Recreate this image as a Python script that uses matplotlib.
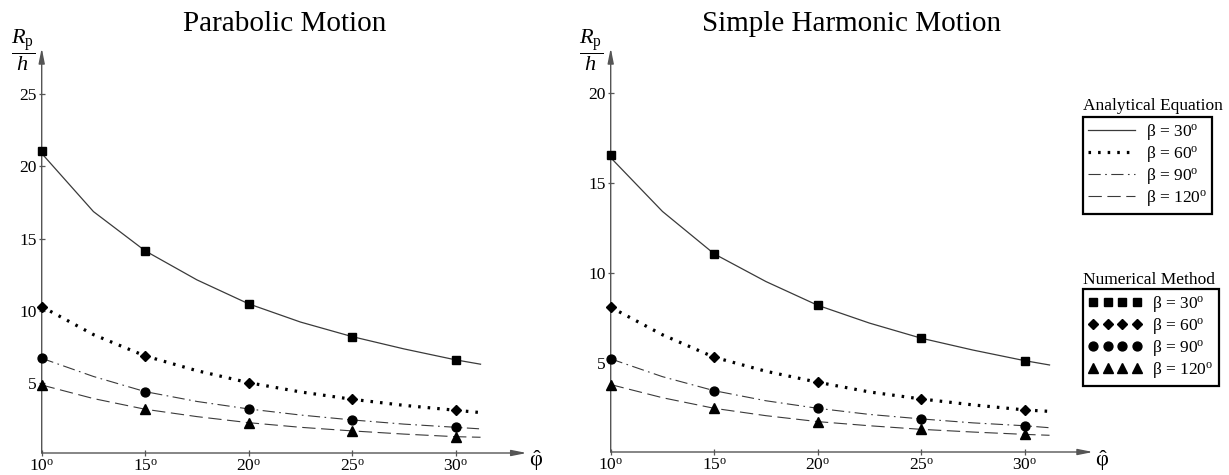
import matplotlib
matplotlib.use("Agg")
import matplotlib.pyplot as plt
from matplotlib.lines import Line2D

plt.rcParams['font.family'] = ['Liberation Serif', 'DejaVu Serif']
plt.rcParams['mathtext.fontset'] = 'custom'
plt.rcParams['mathtext.rm'] = 'Liberation Serif'
plt.rcParams['mathtext.it'] = 'Liberation Serif:italic'
plt.rcParams['mathtext.bf'] = 'Liberation Serif:bold'

# ---------------- data ----------------
phi_pts = [10, 15, 20, 25, 30]
phi_curve = [10, 12.5, 15, 17.5, 20, 22.5, 25, 27.5, 30, 31.2]
x_ticks = [10, 15, 20, 25, 30]
x_tick_labels = [r'10$^{\mathrm{o}}$', r'15$^{\mathrm{o}}$', r'20$^{\mathrm{o}}$',
                 r'25$^{\mathrm{o}}$', r'30$^{\mathrm{o}}$']
beta_labels = ['\u03b2 = 30$^{\\mathrm{o}}$', '\u03b2 = 60$^{\\mathrm{o}}$',
               '\u03b2 = 90$^{\\mathrm{o}}$', '\u03b2 = 120$^{\\mathrm{o}}$']

# Parabolic motion - numerical
par_num_30 = [21.1, 14.15, 10.48, 8.21, 6.6]
par_num_60 = [10.29, 6.87, 5.02, 3.87, 3.11]
par_num_90 = [6.71, 4.40, 3.20, 2.44, 1.93]
par_num_120 = [4.86, 3.18, 2.25, 1.68, 1.28]
# Parabolic motion - analytical curves
par_an_30 = [20.9, 16.87, 14.15, 12.14, 10.48, 9.22, 8.21, 7.36, 6.6, 6.3]
par_an_60 = [10.29, 8.35, 6.87, 5.85, 5.02, 4.38, 3.87, 3.45, 3.11, 2.95]
par_an_90 = [6.71, 5.45, 4.40, 3.72, 3.20, 2.78, 2.44, 2.15, 1.93, 1.82]
par_an_120 = [4.86, 3.92, 3.18, 2.67, 2.25, 1.93, 1.68, 1.46, 1.28, 1.24]

# Simple harmonic motion - numerical
shm_num_30 = [16.56, 11.05, 8.19, 6.36, 5.11]
shm_num_60 = [8.08, 5.30, 3.91, 2.98, 2.37]
shm_num_90 = [5.21, 3.44, 2.46, 1.87, 1.49]
shm_num_120 = [3.78, 2.46, 1.72, 1.29, 1.01]
# Simple harmonic motion - analytical curves
shm_an_30 = [16.4, 13.41, 11.05, 9.51, 8.19, 7.2, 6.36, 5.7, 5.11, 4.87]
shm_an_60 = [8.08, 6.55, 5.30, 4.52, 3.91, 3.37, 2.98, 2.65, 2.37, 2.29]
shm_an_90 = [5.21, 4.22, 3.44, 2.88, 2.46, 2.12, 1.87, 1.65, 1.49, 1.38]
shm_an_120 = [3.78, 3.05, 2.46, 2.05, 1.72, 1.49, 1.29, 1.14, 1.01, 0.96]

par_yticks = [5, 10, 15, 20, 25]
shm_yticks = [5, 10, 15, 20]

# ---------------- styles ----------------
line_col = '#3a3a3a'
axis_col = '#555555'
line_styles = [
    dict(linestyle='-', lw=0.9, color=line_col),
    dict(linestyle=(0, (0.8, 2.2)), lw=2.3, color='black'),
    dict(linestyle=(0, (11, 4, 1.5, 4)), lw=0.8, color=line_col),
    dict(linestyle=(0, (12, 5)), lw=0.8, color=line_col),
]
markers = [dict(marker='s', ms=6.2), dict(marker='D', ms=5.0),
           dict(marker='o', ms=6.4), dict(marker='^', ms=6.6)]

W, H = 1229, 475
fig = plt.figure(figsize=(W / 100, H / 100), dpi=100)


def make_axes(x0, x1, ybot, ytop, xmax, ylim, curves, nums, yticks, title, ylab_x):
    ax = fig.add_axes([x0 / W, (H - ybot) / H, (x1 - x0) / W, (ybot - ytop) / H])
    ax.set_xlim(10, xmax)
    ax.set_ylim(*ylim)
    for sp in ax.spines.values():
        sp.set_visible(False)
    for c, st in zip(curves, line_styles):
        ax.plot(phi_curve, c, clip_on=False, **st)
    for n, mk in zip(nums, markers):
        ax.plot(phi_pts, n, linestyle='none', color='black', clip_on=False, zorder=5, **mk)
    ax.set_xticks(x_ticks)
    ax.set_xticklabels(x_tick_labels)
    ax.set_yticks(yticks)
    ax.set_yticklabels([str(t) for t in yticks])
    ax.tick_params(direction='inout', length=5, width=0.9, color=axis_col,
                   labelsize=12.5, pad=1)
    ax.tick_params(axis='x', pad=1.5)
    ap = dict(arrowstyle='-|>,head_length=0.9,head_width=0.18', lw=1.0,
              color=axis_col, shrinkA=0, shrinkB=0)
    ax.annotate('', xy=(1, 0), xytext=(0, 0), xycoords='axes fraction',
                textcoords='axes fraction', arrowprops=ap, annotation_clip=False)
    ax.annotate('', xy=(0, 1), xytext=(0, 0), xycoords='axes fraction',
                textcoords='axes fraction', arrowprops=ap, annotation_clip=False)
    # titles and axis labels
    fig.text((x0 + x1) / 2 / W, 1 - 24 / H, title, ha='center', va='center', fontsize=21)
    fig.text(ylab_x / W, 1 - 50 / H, r'$\dfrac{R_{\mathrm{p}}}{h}$', ha='center',
             va='center', fontsize=16)
    fig.text((x1 + 9) / W, 2 / H, r'$\hat{\mathrm{\varphi}}$', ha='center',
             va='bottom', fontsize=16)
    return ax


make_axes(41.7, 526.7, 453, 48, 33.43, (0.15, 28.2),
          [par_an_30, par_an_60, par_an_90, par_an_120],
          [par_num_30, par_num_60, par_num_90, par_num_120],
          par_yticks, 'Parabolic Motion', 23)
make_axes(610.7, 1093, 452, 48, 33.3, (0.03, 22.5),
          [shm_an_30, shm_an_60, shm_an_90, shm_an_120],
          [shm_num_30, shm_num_60, shm_num_90, shm_num_120],
          shm_yticks, 'Simple Harmonic Motion', 591)

# ---------------- legends ----------------
an_handles = [Line2D([], [], **st) for st in line_styles]
num_handles = [Line2D([], [], linestyle='none', color='black', **mk) for mk in markers]

leg_kw = dict(loc='upper left', frameon=True, fancybox=False, edgecolor='black',
              framealpha=1, fontsize=12.5, handletextpad=0.6, borderpad=0.3,
              labelspacing=0.12, borderaxespad=0)
leg1 = fig.legend(an_handles, beta_labels, bbox_to_anchor=(1083 / W, 1 - 117 / H),
                  handlelength=2.7, **leg_kw)
leg1.get_frame().set_linewidth(1.6)
leg2 = fig.legend(num_handles, beta_labels, bbox_to_anchor=(1083 / W, 1 - 289 / H),
                  handlelength=3.1, numpoints=4, **leg_kw)
leg2.get_frame().set_linewidth(1.6)
fig.text(1083 / W, 1 - 106 / H, 'Analytical Equation', ha='left', va='center', fontsize=12.5)
fig.text(1083 / W, 1 - 280 / H, 'Numerical Method', ha='left', va='center', fontsize=12.5)

fig.savefig('out.png', dpi=100)
